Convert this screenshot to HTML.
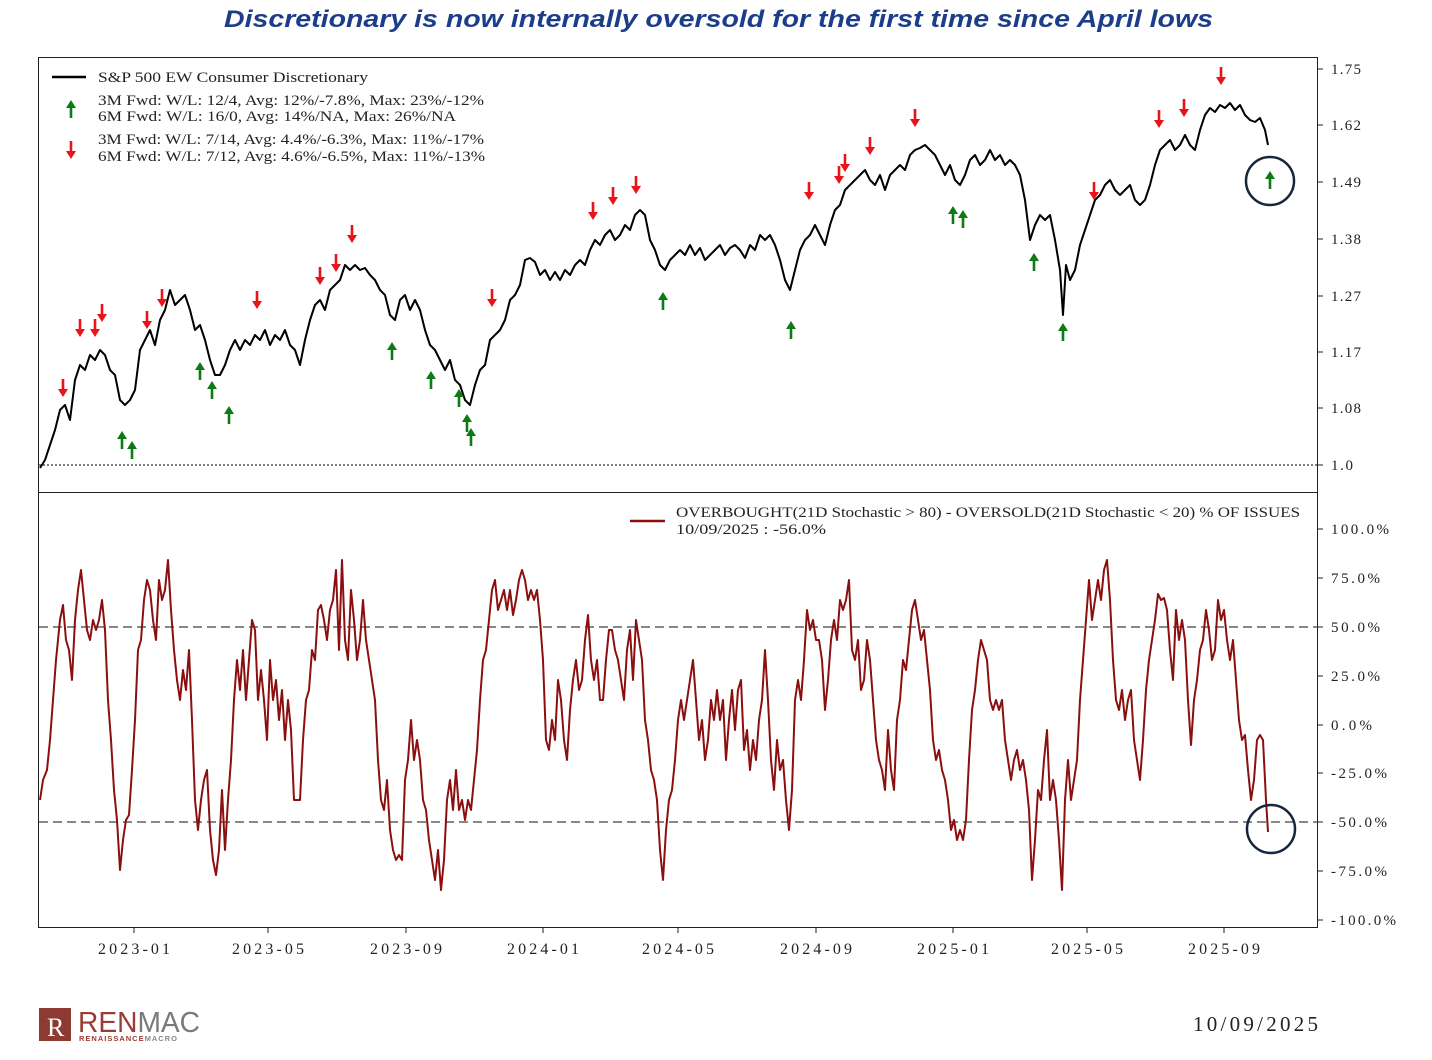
<!DOCTYPE html>
<html><head><meta charset="utf-8"><style>
html,body{margin:0;padding:0;background:#fff;}
svg{display:block;}
text{font-family:"Liberation Serif",serif;}
</style></head><body>
<svg width="1432" height="1060" viewBox="0 0 1432 1060" xmlns="http://www.w3.org/2000/svg">
<defs>
<g id="dn"><line x1="0" y1="-9" x2="0" y2="3" stroke="#e8141a" stroke-width="2.6"/><path d="M-5,1 L5,1 L0,9 Z" fill="#e8141a"/></g>
<g id="up"><line x1="0" y1="9" x2="0" y2="-3" stroke="#0e7a14" stroke-width="2.6"/><path d="M-5,-1 L5,-1 L0,-9 Z" fill="#0e7a14"/></g>
</defs>
<text x="224" y="27" font-style="italic" font-weight="bold" font-size="24" fill="#1c3d8a" textLength="989" lengthAdjust="spacingAndGlyphs" style="font-family:'Liberation Sans',sans-serif">Discretionary is now internally oversold for the first time since April lows</text>

<rect x="38.5" y="57.5" width="1279" height="435" fill="none" stroke="#222" stroke-width="1"/>
<rect x="38.5" y="492.5" width="1279" height="435" fill="none" stroke="#222" stroke-width="1"/>
<line x1="39" y1="465" x2="1317" y2="465" stroke="#000" stroke-width="1" stroke-dasharray="2,2"/>
<g font-size="15" fill="#222">
<line x1="1318" y1="69" x2="1323" y2="69" stroke="#222"/><text x="1331" y="74" textLength="30">1.75</text>
<line x1="1318" y1="125" x2="1323" y2="125" stroke="#222"/><text x="1331" y="130" textLength="30">1.62</text>
<line x1="1318" y1="182" x2="1323" y2="182" stroke="#222"/><text x="1331" y="187" textLength="30">1.49</text>
<line x1="1318" y1="239" x2="1323" y2="239" stroke="#222"/><text x="1331" y="244" textLength="30">1.38</text>
<line x1="1318" y1="296" x2="1323" y2="296" stroke="#222"/><text x="1331" y="301" textLength="30">1.27</text>
<line x1="1318" y1="352" x2="1323" y2="352" stroke="#222"/><text x="1331" y="357" textLength="30">1.17</text>
<line x1="1318" y1="408" x2="1323" y2="408" stroke="#222"/><text x="1331" y="413" textLength="30">1.08</text>
<line x1="1318" y1="465" x2="1323" y2="465" stroke="#222"/><text x="1331" y="470" textLength="22">1.0</text>
</g>
<polyline fill="none" stroke="#000" stroke-width="2" stroke-linejoin="round" points="40,468 45,460 50,445 55,430 60,410 65,405 70,420 75,380 80,365 85,370 90,355 95,360 100,350 105,355 110,370 115,375 120,400 125,405 130,400 135,390 140,350 145,340 150,330 155,345 160,320 165,310 170,290 175,305 180,300 185,295 190,310 195,330 200,325 205,340 210,360 215,375 220,375 225,365 230,350 235,340 240,350 245,340 250,345 255,335 260,340 265,330 270,345 275,335 280,340 285,330 290,345 295,350 300,365 305,340 310,320 315,305 320,300 325,310 330,290 335,285 340,280 345,265 350,270 355,265 360,270 365,268 370,275 375,280 380,290 385,295 390,315 395,320 400,300 405,295 410,310 415,300 420,310 425,330 430,345 435,350 440,360 445,370 450,360 455,380 460,385 465,400 470,405 475,385 480,370 485,365 490,340 495,335 500,330 505,320 510,300 515,295 520,285 525,260 530,258 535,262 540,275 545,270 550,280 555,272 560,280 565,270 570,275 575,265 580,260 585,265 590,250 595,240 600,245 605,235 610,230 615,240 620,235 625,225 630,230 635,215 640,210 645,215 650,240 655,250 660,265 665,270 670,260 675,255 680,250 685,255 690,245 695,255 700,248 705,260 710,255 715,250 720,245 725,255 730,248 735,245 740,250 745,258 750,245 755,250 760,235 765,240 770,235 775,245 780,260 785,280 790,290 795,270 800,250 805,240 810,235 815,225 820,235 825,245 830,225 835,210 840,205 845,190 850,185 855,180 860,175 865,170 870,180 875,185 880,175 885,190 890,175 895,170 900,165 905,170 910,155 915,150 920,148 925,145 930,150 935,155 940,165 945,175 950,165 955,180 960,185 965,175 970,160 975,155 980,165 985,160 990,150 995,160 1000,155 1005,165 1010,160 1015,165 1020,175 1025,200 1030,240 1035,225 1040,215 1045,220 1050,215 1055,240 1060,270 1063,315 1066,265 1070,280 1075,270 1080,245 1085,230 1090,215 1095,200 1100,195 1105,185 1110,180 1115,190 1120,195 1125,190 1130,185 1135,200 1140,205 1145,200 1150,185 1155,165 1160,150 1165,145 1170,140 1175,150 1180,145 1185,135 1190,145 1195,150 1200,130 1205,115 1210,108 1215,112 1220,105 1225,108 1230,103 1235,110 1240,105 1245,115 1250,120 1255,122 1260,118 1265,130 1268,145"/>
<g>
<use href="#dn" x="63" y="388"/><use href="#dn" x="80" y="328"/><use href="#dn" x="95" y="328"/><use href="#dn" x="102" y="313"/><use href="#dn" x="147" y="320"/><use href="#dn" x="162" y="298"/><use href="#dn" x="257" y="300"/><use href="#dn" x="320" y="276"/><use href="#dn" x="336" y="263"/><use href="#dn" x="352" y="234"/><use href="#dn" x="492" y="298"/><use href="#dn" x="593" y="211"/><use href="#dn" x="613" y="196"/><use href="#dn" x="636" y="185"/><use href="#dn" x="809" y="191"/><use href="#dn" x="839" y="175"/><use href="#dn" x="845" y="163"/><use href="#dn" x="870" y="146"/><use href="#dn" x="915" y="118"/><use href="#dn" x="1094" y="191"/><use href="#dn" x="1159" y="119"/><use href="#dn" x="1184" y="108"/><use href="#dn" x="1221" y="76"/>
<use href="#up" x="122" y="440"/><use href="#up" x="132" y="450"/><use href="#up" x="200" y="371"/><use href="#up" x="212" y="390"/><use href="#up" x="229" y="415"/><use href="#up" x="392" y="351"/><use href="#up" x="431" y="380"/><use href="#up" x="459" y="398"/><use href="#up" x="467" y="423"/><use href="#up" x="471" y="437"/><use href="#up" x="663" y="301"/><use href="#up" x="791" y="330"/><use href="#up" x="953" y="215"/><use href="#up" x="963" y="219"/><use href="#up" x="1034" y="262"/><use href="#up" x="1063" y="332"/><use href="#up" x="1270" y="180"/>
</g>
<circle cx="1270" cy="181" r="24" fill="none" stroke="#15263d" stroke-width="2.5"/>
<line x1="52" y1="77" x2="86" y2="77" stroke="#000" stroke-width="2.5"/>
<g font-size="15" fill="#222">
<text x="98" y="82" textLength="270" lengthAdjust="spacingAndGlyphs">S&amp;P 500 EW Consumer Discretionary</text>
<text x="98" y="105" textLength="386" lengthAdjust="spacingAndGlyphs">3M Fwd: W/L: 12/4, Avg: 12%/-7.8%, Max: 23%/-12%</text>
<text x="98" y="121" textLength="358" lengthAdjust="spacingAndGlyphs">6M Fwd: W/L: 16/0, Avg: 14%/NA, Max: 26%/NA</text>
<text x="98" y="144" textLength="386" lengthAdjust="spacingAndGlyphs">3M Fwd: W/L: 7/14, Avg: 4.4%/-6.3%, Max: 11%/-17%</text>
<text x="98" y="161" textLength="387" lengthAdjust="spacingAndGlyphs">6M Fwd: W/L: 7/12, Avg: 4.6%/-6.5%, Max: 11%/-13%</text>
</g>
<use href="#up" x="71" y="109"/><use href="#dn" x="71" y="150"/>

<line x1="39" y1="627" x2="1317" y2="627" stroke="#888" stroke-width="2" stroke-dasharray="9,5"/>
<line x1="39" y1="822" x2="1317" y2="822" stroke="#888" stroke-width="2" stroke-dasharray="9,5"/>
<g font-size="15" fill="#222">
<line x1="1318" y1="529" x2="1323" y2="529" stroke="#222"/><text x="1331" y="534" textLength="58">100.0%</text>
<line x1="1318" y1="578" x2="1323" y2="578" stroke="#222"/><text x="1331" y="583" textLength="49">75.0%</text>
<line x1="1318" y1="627" x2="1323" y2="627" stroke="#222"/><text x="1331" y="632" textLength="49">50.0%</text>
<line x1="1318" y1="676" x2="1323" y2="676" stroke="#222"/><text x="1331" y="681" textLength="49">25.0%</text>
<line x1="1318" y1="725" x2="1323" y2="725" stroke="#222"/><text x="1331" y="730" textLength="41">0.0%</text>
<line x1="1318" y1="773" x2="1323" y2="773" stroke="#222"/><text x="1331" y="778" textLength="56">-25.0%</text>
<line x1="1318" y1="822" x2="1323" y2="822" stroke="#222"/><text x="1331" y="827" textLength="56">-50.0%</text>
<line x1="1318" y1="871" x2="1323" y2="871" stroke="#222"/><text x="1331" y="876" textLength="56">-75.0%</text>
<line x1="1318" y1="920" x2="1323" y2="920" stroke="#222"/><text x="1331" y="925" textLength="65">-100.0%</text>
</g>
<polyline fill="none" stroke="#8b0f0f" stroke-width="2" stroke-linejoin="round" points="40,800 43,780 47,770 50,740 53,700 56,660 60,620 63,605 66,640 69,650 72,680 75,620 78,590 81,570 84,600 87,630 90,640 93,620 96,630 99,620 102,600 105,630 108,700 111,740 114,790 117,820 120,870 123,840 126,820 129,815 132,770 135,720 138,650 141,640 144,600 147,580 150,590 153,620 156,640 159,580 162,600 165,590 168,560 171,610 174,650 177,680 180,700 183,670 186,690 189,650 192,720 195,800 198,830 201,800 204,780 207,770 210,830 213,860 216,875 219,850 222,790 225,850 228,800 231,760 234,700 237,660 240,690 243,650 246,700 249,660 252,620 255,630 258,700 261,670 264,700 267,740 270,660 273,700 276,680 279,720 282,690 285,740 288,700 291,730 294,800 297,800 300,800 303,740 306,700 309,690 312,650 315,660 318,610 321,605 324,620 327,640 330,610 333,600 336,570 339,650 342,560 345,640 348,660 351,590 354,620 357,660 360,640 363,600 366,640 369,660 372,680 375,700 378,760 381,800 384,810 387,780 390,830 393,850 396,860 399,855 402,860 405,780 408,760 411,720 414,760 417,740 420,760 423,800 426,810 429,840 432,860 435,880 438,850 441,890 444,860 447,800 450,780 453,810 456,770 459,810 462,800 465,820 468,800 471,810 474,780 477,750 480,700 483,660 486,650 489,620 492,590 495,580 498,610 501,600 504,590 507,610 510,590 513,615 516,600 519,580 522,570 525,580 528,600 531,590 534,600 537,590 540,620 543,660 546,740 549,750 552,720 555,740 558,680 561,700 564,740 567,760 570,710 573,680 576,660 579,690 582,680 585,640 588,615 591,660 594,680 597,660 600,700 603,700 606,660 609,630 612,630 615,650 618,660 621,680 624,700 627,650 630,630 633,680 636,620 639,640 642,660 645,720 648,740 651,770 654,780 657,800 660,850 663,880 666,830 669,800 672,790 675,760 678,720 681,700 684,720 687,700 690,680 693,660 696,700 699,740 702,720 705,760 708,740 711,700 714,720 717,690 720,720 723,700 726,760 729,720 732,690 735,730 738,690 741,680 744,750 747,730 750,770 753,740 756,760 759,720 762,700 765,650 768,700 771,760 774,790 777,740 780,770 783,760 786,800 789,830 792,790 795,700 798,680 801,700 804,660 807,610 810,630 813,620 816,640 819,640 822,660 825,710 828,680 831,640 834,620 837,640 840,600 843,610 846,600 849,580 852,650 855,660 858,640 861,690 864,680 867,640 870,660 873,700 876,740 879,760 882,770 885,790 888,730 891,770 894,790 897,720 900,700 903,660 906,670 909,640 912,610 915,600 918,620 921,640 924,630 927,660 930,690 933,740 936,760 939,750 942,770 945,780 948,800 951,830 954,820 957,840 960,830 963,840 966,820 969,760 972,710 975,690 978,660 981,640 984,650 987,660 990,700 993,710 996,700 999,710 1002,700 1005,740 1008,760 1011,780 1014,760 1017,750 1020,770 1023,760 1026,780 1029,810 1032,880 1035,840 1038,790 1041,800 1044,760 1047,730 1050,800 1053,780 1056,800 1059,840 1062,890 1065,800 1068,760 1071,800 1074,780 1077,760 1080,700 1083,660 1086,620 1089,580 1092,620 1095,600 1098,580 1101,600 1104,570 1107,560 1110,600 1113,660 1116,700 1119,710 1122,690 1125,720 1128,700 1131,690 1134,740 1137,760 1140,780 1143,740 1146,690 1149,660 1152,640 1155,620 1158,594 1161,600 1164,598 1167,610 1170,650 1173,680 1176,610 1179,640 1182,620 1185,640 1188,700 1191,745 1194,700 1197,680 1200,650 1203,640 1206,610 1209,630 1212,660 1215,650 1218,600 1221,620 1224,610 1227,640 1230,660 1233,640 1236,680 1239,720 1242,740 1245,735 1248,770 1251,800 1254,780 1257,740 1260,735 1263,740 1266,800 1268,832"/>
<circle cx="1271" cy="829" r="24" fill="none" stroke="#15263d" stroke-width="2.5"/>
<line x1="630" y1="521" x2="665" y2="521" stroke="#8b0f0f" stroke-width="2.5"/>
<g font-size="15" fill="#222">
<text x="676" y="517" textLength="624" lengthAdjust="spacingAndGlyphs">OVERBOUGHT(21D Stochastic &gt; 80) - OVERSOLD(21D Stochastic &lt; 20) % OF ISSUES</text>
<text x="676" y="534" textLength="150" lengthAdjust="spacingAndGlyphs">10/09/2025 : -56.0%</text>
</g>

<g font-size="16" fill="#222" text-anchor="middle">
<line x1="134" y1="928" x2="134" y2="933" stroke="#222"/><text x="134" y="954" textLength="72">2023-01</text>
<line x1="268" y1="928" x2="268" y2="933" stroke="#222"/><text x="268" y="954" textLength="72">2023-05</text>
<line x1="406" y1="928" x2="406" y2="933" stroke="#222"/><text x="406" y="954" textLength="72">2023-09</text>
<line x1="543" y1="928" x2="543" y2="933" stroke="#222"/><text x="543" y="954" textLength="72">2024-01</text>
<line x1="678" y1="928" x2="678" y2="933" stroke="#222"/><text x="678" y="954" textLength="72">2024-05</text>
<line x1="816" y1="928" x2="816" y2="933" stroke="#222"/><text x="816" y="954" textLength="72">2024-09</text>
<line x1="953" y1="928" x2="953" y2="933" stroke="#222"/><text x="953" y="954" textLength="72">2025-01</text>
<line x1="1087" y1="928" x2="1087" y2="933" stroke="#222"/><text x="1087" y="954" textLength="72">2025-05</text>
<line x1="1224" y1="928" x2="1224" y2="933" stroke="#222"/><text x="1224" y="954" textLength="72">2025-09</text>
</g>

<rect x="39" y="1008" width="32" height="33" fill="#8e3a32"/>
<text x="47" y="1036" font-size="26" fill="#fff">R</text>
<text x="78" y="1032" font-size="29" fill="#9b3b33" textLength="122" lengthAdjust="spacingAndGlyphs" style="font-family:'Liberation Sans',sans-serif">REN<tspan fill="#7a7a7a">MAC</tspan></text>
<text x="79" y="1041" font-size="7.5" fill="#9b3b33" font-weight="bold" letter-spacing="1" style="font-family:'Liberation Sans',sans-serif">RENAISSANCE<tspan fill="#888">MACRO</tspan></text>
<text x="1193" y="1031" font-size="21" fill="#222" textLength="125">10/09/2025</text>
</svg>
</body></html>
